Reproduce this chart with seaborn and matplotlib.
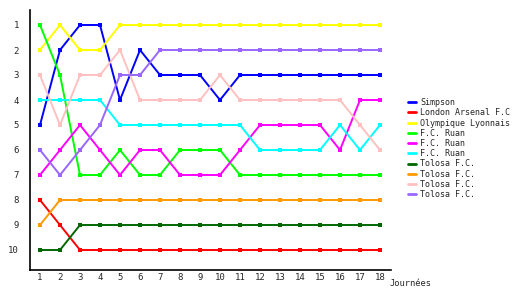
import numpy as np
import pandas as pd
import matplotlib
matplotlib.use("Agg")
import matplotlib.pyplot as plt
import seaborn as sns
from matplotlib.lines import Line2D

journees = list(range(1, 19))
names = ["Simpson", "London Arsenal F.C", "Olympique Lyonnais", "F.C. Ruan", "F.C. Ruan",
         "F.C. Ruan", "Tolosa F.C.", "Tolosa F.C.", "Tolosa F.C.", "Tolosa F.C."]
colors = ["#0000ff", "#ff0000", "#ffff00", "#00ff00", "#ff00ff",
          "#00ffff", "#006600", "#ff9900", "#ffc0c0", "#9966ff"]

simpson  = [5, 2, 1, 1, 4, 2, 3, 3, 3, 4, 3, 3, 3, 3, 3, 3, 3, 3]
arsenal  = [8, 9, 10, 10, 10, 10, 10, 10, 10, 10, 10, 10, 10, 10, 10, 10, 10, 10]
lyon     = [2, 1, 2, 2, 1, 1, 1, 1, 1, 1, 1, 1, 1, 1, 1, 1, 1, 1]
ruan_g   = [1, 3, 7, 7, 6, 7, 7, 6, 6, 6, 7, 7, 7, 7, 7, 7, 7, 7]
ruan_m   = [7, 6, 5, 6, 7, 6, 6, 7, 7, 7, 6, 5, 5, 5, 5, 6, 4, 4]
ruan_c   = [4, 4, 4, 4, 5, 5, 5, 5, 5, 5, 5, 6, 6, 6, 6, 5, 6, 5]
tolosa_d = [10, 10, 9, 9, 9, 9, 9, 9, 9, 9, 9, 9, 9, 9, 9, 9, 9, 9]
tolosa_o = [9, 8, 8, 8, 8, 8, 8, 8, 8, 8, 8, 8, 8, 8, 8, 8, 8, 8]
tolosa_p = [3, 5, 3, 3, 2, 4, 4, 4, 4, 3, 4, 4, 4, 4, 4, 4, 5, 6]
tolosa_v = [6, 7, 6, 5, 3, 3, 2, 2, 2, 2, 2, 2, 2, 2, 2, 2, 2, 2]

series = [simpson, arsenal, lyon, ruan_g, ruan_m, ruan_c, tolosa_d, tolosa_o, tolosa_p, tolosa_v]

rows = []
for i, vals in enumerate(series):
    for j, v in zip(journees, vals):
        rows.append({"id": i, "journee": j, "rang": v})
df = pd.DataFrame(rows)

sns.set_style("white")
plt.rcParams["font.family"] = ["DejaVu Sans Mono", "DejaVu Sans"]

fig = plt.figure(figsize=(5.3, 3.0), dpi=100)
ax = fig.add_axes([30/530, 30/300, 361/530, 260/300])

sns.lineplot(data=df, x="journee", y="rang", hue="id", palette=colors,
             marker="s", markersize=2.6, markeredgewidth=0, linewidth=1.4,
             legend=False, ax=ax)

ax.set_xlim(0.5, 18.55)
ax.set_ylim(10.8, 0.4)
ax.set_xticks(journees)
ax.set_yticks(range(1, 11))
ax.tick_params(axis="y", labelsize=6.5, length=0, pad=8)
ax.tick_params(axis="x", labelsize=6.5, length=0, pad=2)
ax.set_xlabel("")
ax.set_ylabel("")
for s in ["top", "right"]:
    ax.spines[s].set_visible(False)
for s in ["left", "bottom"]:
    ax.spines[s].set_color("black")
    ax.spines[s].set_linewidth(1.2)
ax.grid(False)

fig.text(390/530, 1 - 284/300, "Journées", fontsize=6.3, ha="left", va="center")

handles = [Line2D([0], [0], color=c, lw=2) for c in colors]
fig.legend(handles, names, loc="upper left", bbox_to_anchor=(408/530, 1 - 98/300),
           frameon=False, fontsize=6.0, handlelength=1.0, handletextpad=0.5,
           labelspacing=0.15, borderpad=0, borderaxespad=0)

fig.savefig("out.png", dpi=100)
